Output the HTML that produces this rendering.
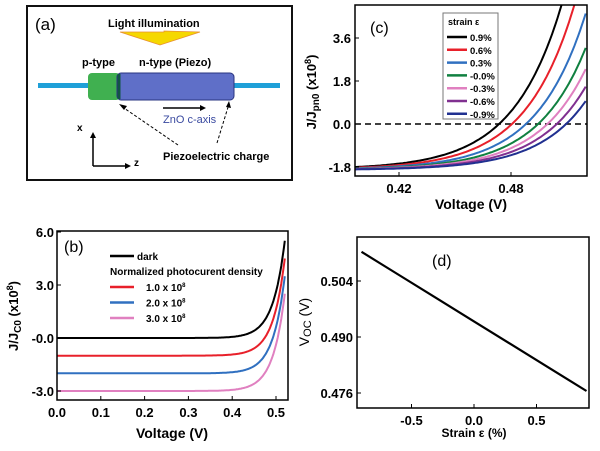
<!DOCTYPE html>
<html><head><meta charset="utf-8"><style>
body{margin:0;background:#fff;width:600px;height:446px;overflow:hidden}
svg{font-family:"Liberation Sans",sans-serif}
</style></head><body>
<svg id="s" width="600" height="446" viewBox="0 0 600 446">
<rect width="600" height="446" fill="#fff"/>
<g>
<rect x="27" y="6" width="265" height="174" fill="#fff" stroke="#111" stroke-width="2"/>
<text x="35" y="30" font-size="17">(a)</text>
<text x="108" y="27" font-size="11" font-weight="bold">Light illumination</text>
<polygon points="122,32 164,32 164,31 200,32 160,45 120,32" fill="#f5d800" stroke="#e89030" stroke-width="0.8"/>
<text x="82" y="66" font-size="11" font-weight="bold">p-type</text>
<text x="139" y="66" font-size="11" font-weight="bold">n-type (Piezo)</text>
<rect x="38" y="83" width="52" height="5" fill="#1fa0d8"/>
<rect x="232" y="83" width="48" height="5" fill="#1fa0d8"/>
<rect x="88" y="73" width="32" height="27" rx="4" fill="#40b050"/>
<rect x="117" y="73" width="117" height="27" rx="4" fill="#5f6fc8" stroke="#2a3480"/>
<line x1="119" y1="74" x2="119" y2="99" stroke="#154" stroke-width="3"/>
<line x1="163" y1="108" x2="200" y2="108" stroke="#000" stroke-width="1.5"/><polygon points="200,105 206,108 200,111"/>
<text x="163" y="123" font-size="11" fill="#3a4aa0">ZnO c-axis</text>
<line x1="178" y1="145" x2="121" y2="106" stroke="#000" stroke-dasharray="3,2"/><polygon points="119,104 127,106 124,110"/>
<line x1="217" y1="143" x2="229" y2="104" stroke="#000" stroke-dasharray="3,2"/><polygon points="229,101 231,108 226,107"/>
<text x="163" y="160" font-size="11" font-weight="bold">Piezoelectric charge</text>
<line x1="93" y1="166" x2="93" y2="137" stroke="#000" stroke-width="1.5"/><polygon points="90,138 93,132 96,138"/>
<line x1="93" y1="166" x2="126" y2="166" stroke="#000" stroke-width="1.5"/><polygon points="125,163 131,166 125,169"/>
<text x="77" y="131" font-size="10" font-weight="bold">x</text>
<text x="134" y="166" font-size="10" font-weight="bold">z</text>
</g>
<g id="pb"></g><g id="pc"></g><g id="pd"></g>
</svg>
<script>
// ---- data ----
const bPhotoLabels=["dark","1.0 x 10","2.0 x 10","3.0 x 10"];
const bPhotoCurrent=[0,1,2,3];
const bColors=["#000","#e8202a","#3070c0","#e080c0"];
const bXTicks=[0.0,0.1,0.2,0.3,0.4,0.5];
const bYTicks=[6.0,3.0,0.0,-3.0];
const bYTickLabels=["6.0","3.0","-0.0","-3.0"];
const cStrainLabels=["0.9%","0.6%","0.3%","-0.0%","-0.3%","-0.6%","-0.9%"];
const cVoc=[0.4736,0.4805,0.4880,0.4945,0.4995,0.5045,0.5095];
const cColors=["#000","#e8202a","#3070c0","#108040","#e080c0","#803090","#203090"];
const cXTicks=[0.42,0.48];
const cYTicks=[3.6,1.8,0.0,-1.8];
const dStrain=[-0.9,-0.6,-0.3,0,0.3,0.6,0.9];
const dVoc=[0.5113,0.5055,0.4997,0.4939,0.4881,0.4823,0.4765];
const dXTicks=[-0.5,0.0,0.5];
const dYTicks=[0.504,0.490,0.476];
const NS="http://www.w3.org/2000/svg";
function mk(p,t,a,txt){const e=document.createElementNS(NS,t);for(const k in a)e.setAttribute(k,a[k]);if(txt!=null)e.textContent=txt;p.appendChild(e);return e;}
function lin(d0,d1,r0,r1){return v=>r0+(v-d0)/(d1-d0)*(r1-r0);}
// ---- panel b ----
(function(){
const g=document.getElementById('pb');
const L=57,R=288,T=231,B=400;
const x=lin(0,0.5,57,276), y=lin(0,3,338,285);
const clip=mk(g,'clipPath',{id:'cb'});mk(clip,'rect',{x:L,y:T,width:R-L,height:B-T});
const Vt=0.027,I0=5.5/Math.exp(0.52/Vt);
bPhotoCurrent.forEach((jp,i)=>{let d="";for(let v=0;v<=0.5201;v+=0.002){const j=I0*(Math.exp(v/Vt)-1)-jp;d+=(d?"L":"M")+x(v).toFixed(1)+","+y(Math.min(j,7)).toFixed(1);}
const p=mk(g,'path',{d:d,fill:'none',stroke:bColors[i],'stroke-width':2,'clip-path':'url(#cb)'});

});
const f=mk(g,'rect',{x:L,y:T,width:R-L,height:B-T,fill:'none',stroke:'#000','stroke-width':1.5});

bXTicks.forEach(t=>{mk(g,'line',{x1:x(t),x2:x(t),y1:B,y2:B-4,stroke:'#000'});const e=mk(g,'text',{x:x(t),y:B+17,'font-size':13,'font-weight':'bold','text-anchor':'middle'},t.toFixed(1));});
bYTicks.forEach((t,i)=>{mk(g,'line',{x1:L,x2:L+4,y1:y(t),y2:y(t),stroke:'#000'});const e=mk(g,'text',{x:L-3,y:y(t)+5,'font-size':13,'font-weight':'bold','text-anchor':'end'},bYTickLabels[i]);});
let e=mk(g,'text',{x:172,y:438,'font-size':14,'font-weight':'bold','text-anchor':'middle'},'Voltage (V)');
e=mk(g,'text',{transform:'translate(18,316) rotate(-90)','font-size':13,'font-weight':'bold','text-anchor':'middle'});e.innerHTML='J/J<tspan font-size="10" dy="3">C0</tspan><tspan dy="-3"> (x10</tspan><tspan font-size="9" dy="-5">8</tspan><tspan dy="5">)</tspan>';

e=mk(g,'text',{x:64,y:252,'font-size':16},'(b)');
mk(g,'line',{x1:110,x2:134,y1:256,y2:256,stroke:'#000','stroke-width':2.5});
e=mk(g,'text',{x:137,y:260,'font-size':10,'font-weight':'bold'},'dark');
e=mk(g,'text',{x:110,y:275,'font-size':10,'font-weight':'bold'},'Normalized photocurent density');
for(let i=1;i<4;i++){const yy=287+(i-1)*15.5;mk(g,'line',{x1:110,x2:134,y1:yy,y2:yy,stroke:bColors[i],'stroke-width':2.5});
e=mk(g,'text',{x:146,y:yy+4,'font-size':10,'font-weight':'bold'});e.innerHTML=bPhotoLabels[i]+'<tspan font-size="6" dy="-4">8</tspan>';}
})();
// ---- panel c ----
(function(){
const g=document.getElementById('pc');
const L=355,R=587,T=5,B=176;
const x=lin(0.42,0.48,399,511), y=lin(0,1.8,124,81);
const clip=mk(g,'clipPath',{id:'cc'});mk(clip,'rect',{x:L,y:T,width:R-L,height:B-T});
mk(g,'line',{x1:L,x2:R,y1:y(0),y2:y(0),stroke:'#000','stroke-width':1.5,'stroke-dasharray':'6,4'});
const Vt=0.026;
cVoc.forEach((voc,i)=>{let d="";for(let v=0.396;v<=0.521;v+=0.001){const j=-1.9-0.004*i+(1.9+0.004*i)*Math.exp((v-voc)/Vt);d+=(d?"L":"M")+x(v).toFixed(1)+","+y(Math.min(j,6)).toFixed(1);}
const p=mk(g,'path',{d:d,fill:'none',stroke:cColors[i],'stroke-width':2,'clip-path':'url(#cc)'});
});
const f=mk(g,'rect',{x:L,y:T,width:R-L,height:B-T,fill:'none',stroke:'#000','stroke-width':1.5});

cXTicks.forEach(t=>{mk(g,'line',{x1:x(t),x2:x(t),y1:B,y2:B-4,stroke:'#000'});const e=mk(g,'text',{x:x(t),y:B+17,'font-size':13,'font-weight':'bold','text-anchor':'middle'},t.toFixed(2));});
cYTicks.forEach(t=>{mk(g,'line',{x1:L,x2:L+4,y1:y(t),y2:y(t),stroke:'#000'});const e=mk(g,'text',{x:L-4,y:y(t)+5,'font-size':13,'font-weight':'bold','text-anchor':'end'},t.toFixed(1));});
let e=mk(g,'text',{x:471,y:209,'font-size':14,'font-weight':'bold','text-anchor':'middle'},'Voltage (V)');
e=mk(g,'text',{transform:'translate(316,92) rotate(-90)','font-size':13,'font-weight':'bold','text-anchor':'middle'});e.innerHTML='J/J<tspan font-size="10" dy="3">pn0</tspan><tspan dy="-3"> (x10</tspan><tspan font-size="9" dy="-5">8</tspan><tspan dy="5">)</tspan>';

e=mk(g,'text',{x:370,y:33,'font-size':16},'(c)');
e=mk(g,'rect',{x:443,y:13,width:55,height:106,fill:'#fff',stroke:'#777'});
e=mk(g,'text',{x:448,y:25,'font-size':9,'font-weight':'bold'},'strain ε');
cStrainLabels.forEach((s,i)=>{const yy=37+i*12.8;mk(g,'line',{x1:447,x2:467,y1:yy,y2:yy,stroke:cColors[i],'stroke-width':2.5});
const t=mk(g,'text',{x:470,y:yy+4,'font-size':9.5,'font-weight':'bold'},s);});
})();
// ---- panel d ----
(function(){
const g=document.getElementById('pd');
const L=357,R=589,T=237,B=408;
const x=lin(0,0.5,474,536.5), y=lin(0.490,0.504,337,281);
let d="";dStrain.forEach((s,i)=>{d+=(i?"L":"M")+x(s).toFixed(1)+","+y(dVoc[i]).toFixed(1);});
let e=mk(g,'path',{d:d,fill:'none',stroke:'#000','stroke-width':2.2});
e=mk(g,'rect',{x:L,y:T,width:R-L,height:B-T,fill:'none',stroke:'#000','stroke-width':1.5});
dXTicks.forEach(t=>{mk(g,'line',{x1:x(t),x2:x(t),y1:B,y2:B-4,stroke:'#000'});const e=mk(g,'text',{x:x(t),y:B+17,'font-size':13,'font-weight':'bold','text-anchor':'middle'},t.toFixed(1));});
dYTicks.forEach(t=>{mk(g,'line',{x1:L,x2:L+4,y1:y(t),y2:y(t),stroke:'#000'});const e=mk(g,'text',{x:L-4,y:y(t)+5,'font-size':13,'font-weight':'bold','text-anchor':'end'},t.toFixed(3));});
e=mk(g,'text',{x:474,y:437,'font-size':12,'font-weight':'bold','text-anchor':'middle'},'Strain ε (%)');
e=mk(g,'text',{transform:'translate(309,322) rotate(-90)','font-size':14,'text-anchor':'middle'});e.innerHTML='V<tspan font-size="11" dy="2">OC</tspan><tspan dy="-2"> (V)</tspan>';
e=mk(g,'text',{x:432,y:266,'font-size':16},'(d)');
})();
</script>
</body></html>
